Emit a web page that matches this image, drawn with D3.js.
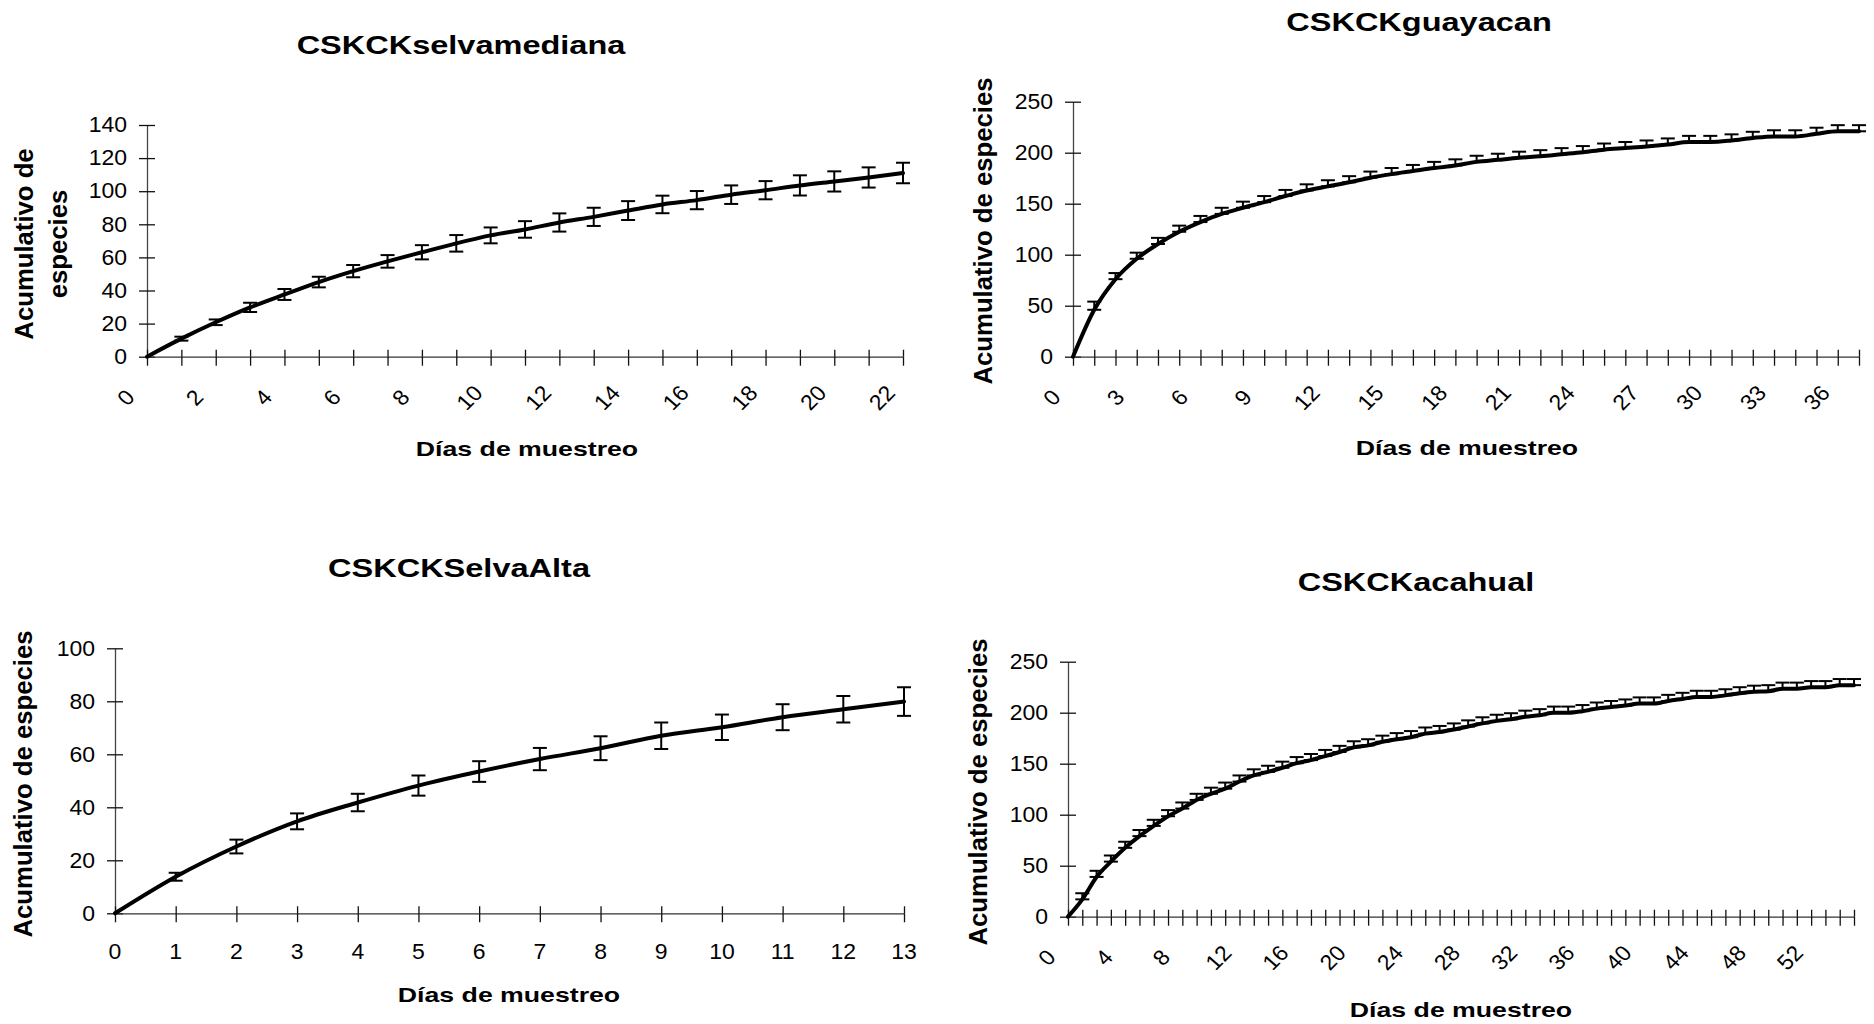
<!DOCTYPE html>
<html><head><meta charset="utf-8">
<script src="https://cdn.jsdelivr.net/npm/d3@7"></script>
<style>
body{margin:0;background:#fff}
svg{display:block}
text{font-family:"Liberation Sans",Arial,sans-serif;fill:#000}
</style>
</head><body>
<svg id="chart" width="1874" height="1024"></svg>
<script>
// ---------- DATA ----------
// CSKCKselvamediana
const medianaDays = [0,1,2,3,4,5,6,7,8,9,10,11,12,13,14,15,16,17,18,19,20,21,22];
const medianaValues = [0,10.9,20.8,29.8,37.6,45.1,51.7,57.6,63.1,68.5,73.3,76.9,81.1,84.5,88.3,92,94.6,97.9,100.6,103.5,105.9,108.3,111];
const medianaErrors = [0,1.2,1.7,2.8,3.3,3.2,3.7,3.8,4.3,5,4.8,5,5.5,5.5,5.7,5.3,5.5,5.6,5.5,6.1,6.1,6.1,6.2];
const medianaXTickLabels = ["0","2","4","6","8","10","12","14","16","18","20","22"];
const medianaYTicks = [0,20,40,60,80,100,120,140];

// CSKCKguayacan
const guayacanDays = [0,1,2,3,4,5,6,7,8,9,10,11,12,13,14,15,16,17,18,19,20,21,22,23,24,25,26,27,28,29,30,31,32,33,34,35,36,37];
const guayacanValues = [0,46,76,96,110.5,122.5,132,140,146,151.5,157.5,163,167,171,175.5,179,182,185,187.5,191,193,195,196.5,198.5,200.5,203,204.5,206,208,210.5,210.5,212,214.5,216,216,218.5,221,221];
const guayacanErrors = [0,8,6,6,6,6,6,6,6,6,6,6,6,6,6,6,6,6,6,6,6,6,6,6,6,6,6,6,6,6,6,6,6,6,6,6,6,6];
const guayacanXTickLabels = ["0","3","6","9","12","15","18","21","24","27","30","33","36"];
const guayacanYTicks = [0,50,100,150,200,250];

// CSKCKSelvaAlta
const altaDays = [0,1,2,3,4,5,6,7,8,9,10,11,12,13];
const altaValues = [0,13.8,25.2,34.7,41.8,48.2,53.5,58.2,62.3,67,70.2,74,77,79.9];
const altaErrors = [0,1.5,2.6,3,3.3,3.8,3.9,4.2,4.5,5,4.8,4.9,5,5.4];
const altaXTickLabels = ["0","1","2","3","4","5","6","7","8","9","10","11","12","13"];
const altaYTicks = [0,20,40,60,80,100];

// CSKCKacahual
const acahualDays = [0,1,2,3,4,5,6,7,8,9,10,11,12,13,14,15,16,17,18,19,20,21,22,23,24,25,26,27,28,29,30,31,32,33,34,35,36,37,38,39,40,41,42,43,44,45,46,47,48,49,50,51,52,53,54,55];
const acahualValues = [0,17,39,54,67.5,79,89,98.5,106,114.5,120.5,125.5,132.5,138.5,142,146,150.5,153.5,157.5,161.5,166,168,171.5,174,176,179.5,181,183.5,186.5,189.5,192,193.5,196,197.5,200,200,201.5,204,205.5,207,209,209,211.5,213.5,215.5,215.5,217,219,220.5,221,223.5,223.5,225,225,227,227];
const acahualErrors = [0,6,6,6,6,6,6,6,6,6,6,6,6,6,6,6,6,6,6,6,6,6,6,6,6,6,6,6,6,6,6,6,6,6,6,6,6,6,6,6,6,6,6,6,6,6,6,6,6,6,6,6,6,6,6,6];
const acahualXTickLabels = ["0","4","8","12","16","20","24","28","32","36","40","44","48","52"];
const acahualYTicks = [0,50,100,150,200,250];

const xAxisTitle = "Días de muestreo";

// ---------- LAYOUT ----------
const SX = 1.27;      // horizontal stretch of titles
const SX_TICK = 1.07; // horizontal stretch of tick labels
const TICK_FS = 21.5;
const svg = d3.select("#chart");

function txt(g, x, y, s, o) {
  o = o || {};
  const sx = o.sx === undefined ? SX : o.sx;
  return g.append("text")
    .attr("transform", `translate(${x},${y}) scale(${sx},1) rotate(${o.rot || 0})`)
    .attr("text-anchor", o.anchor || "middle")
    .attr("dominant-baseline", "central")
    .style("font-size", (o.size || 16) + "px")
    .style("font-weight", o.bold ? "bold" : "normal")
    .text(s);
}

const panels = [
  { title: "CSKCKselvamediana", titleX: 461, titleY: 45,
    days: medianaDays, values: medianaValues, errors: medianaErrors, plusOnly: false,
    xTicks: medianaXTickLabels, yTicks: medianaYTicks, yMax: 140,
    x0: 147, x1: 903, y0: 356.7, y1: 125, rotated: true,
    yLabel: ["Acumulativo de", "especies"], yLabelX: [24, 58], yLabelY: 244,
    xTitleX: 527, xTitleY: 449 },
  { title: "CSKCKguayacan", titleX: 1419, titleY: 22.5,
    days: guayacanDays, values: guayacanValues, errors: guayacanErrors, plusOnly: true,
    xTicks: guayacanXTickLabels, yTicks: guayacanYTicks, yMax: 250,
    x0: 1073, x1: 1859, y0: 356.7, y1: 101.7, rotated: true,
    yLabel: ["Acumulativo de especies"], yLabelX: [983], yLabelY: 231,
    xTitleX: 1467, xTitleY: 448 },
  { title: "CSKCKSelvaAlta", titleX: 459, titleY: 568,
    days: altaDays, values: altaValues, errors: altaErrors, plusOnly: false,
    xTicks: altaXTickLabels, yTicks: altaYTicks, yMax: 100,
    x0: 115, x1: 904, y0: 913.3, y1: 648.3, rotated: false,
    yLabel: ["Acumulativo de especies"], yLabelX: [23], yLabelY: 784,
    xTitleX: 509, xTitleY: 995 },
  { title: "CSKCKacahual", titleX: 1416, titleY: 582,
    days: acahualDays, values: acahualValues, errors: acahualErrors, plusOnly: true,
    xTicks: acahualXTickLabels, yTicks: acahualYTicks, yMax: 250,
    x0: 1068, x1: 1854, y0: 916.7, y1: 661.7, rotated: true,
    yLabel: ["Acumulativo de especies"], yLabelX: [978], yLabelY: 792,
    xTitleX: 1461, xTitleY: 1010 }
];

panels.forEach(p => {
  const g = svg.append("g");
  const x = d3.scalePoint().domain(p.days).range([p.x0, p.x1]);
  const y = d3.scaleLinear().domain([0, p.yMax]).range([p.y0, p.y1]);

  // title
  txt(g, p.titleX, p.titleY, p.title, { size: 25.6, bold: true });

  // y axis (ticks crossing the axis line)
  const ya = g.append("g").attr("transform", `translate(${p.x0},0)`);
  ya.call(d3.axisLeft(y).tickValues(p.yTicks).tickSizeInner(8).tickSizeOuter(0).tickFormat(""));
  ya.append("g").call(d3.axisRight(y).tickValues(p.yTicks).tickSizeInner(8).tickSizeOuter(0).tickFormat(""))
    .select(".domain").remove();
  ya.selectAll("path.domain").attr("stroke", "#444").attr("stroke-width", 1.3);
  ya.selectAll(".tick line").attr("stroke", "#111").attr("stroke-width", 1.3);
  p.yTicks.forEach(v => txt(g, p.x0 - 20, y(v), String(v), { size: TICK_FS, anchor: "end", sx: SX_TICK }));

  // x axis
  const xa = g.append("g").attr("transform", `translate(0,${p.y0})`);
  xa.call(d3.axisBottom(x).tickSizeInner(9).tickSizeOuter(0).tickFormat(""));
  xa.append("g").call(d3.axisTop(x).tickSizeInner(7).tickSizeOuter(0).tickFormat(""))
    .select(".domain").remove();
  xa.selectAll("path.domain").attr("stroke", "#333").attr("stroke-width", 1.3);
  xa.selectAll(".tick line").attr("stroke", "#111").attr("stroke-width", 1.3);
  p.xTicks.forEach(l => {
    const tx = x(+l);
    if (p.rotated) txt(g, tx - 21, p.y0 + 41, l, { size: TICK_FS, rot: -47, sx: SX_TICK });
    else txt(g, tx, p.y0 + 38, l, { size: TICK_FS, sx: SX_TICK });
  });

  // axis titles
  txt(g, p.xTitleX, p.xTitleY, xAxisTitle, { size: 21, bold: true });
  p.yLabel.forEach((s, i) => txt(g, p.yLabelX[i], p.yLabelY, s, { size: 25.7, bold: true, rot: -90, sx: 1 }));

  // error bars
  const cap = 7;
  const eb = g.append("g").attr("stroke", "#000").attr("stroke-width", 2).attr("fill", "none");
  p.days.forEach((d, i) => {
    const e = p.errors[i];
    if (!e) return;
    const v = p.values[i];
    const lo = p.plusOnly ? v : v - e, hi = v + e;
    const cx = x(d);
    eb.append("line").attr("x1", cx).attr("x2", cx).attr("y1", y(lo)).attr("y2", y(hi));
    eb.append("line").attr("x1", cx - cap).attr("x2", cx + cap).attr("y1", y(hi)).attr("y2", y(hi));
    eb.append("line").attr("x1", cx - cap).attr("x2", cx + cap).attr("y1", y(lo)).attr("y2", y(lo));
  });

  // line
  const line = d3.line().x((d, i) => x(p.days[i])).y(d => y(d)).curve(d3.curveMonotoneX);
  g.append("path").datum(p.values)
    .attr("d", line).attr("fill", "none").attr("stroke", "#000")
    .attr("stroke-width", 4).attr("stroke-linejoin", "round").attr("stroke-linecap", "round");
});
</script>
</body></html>
